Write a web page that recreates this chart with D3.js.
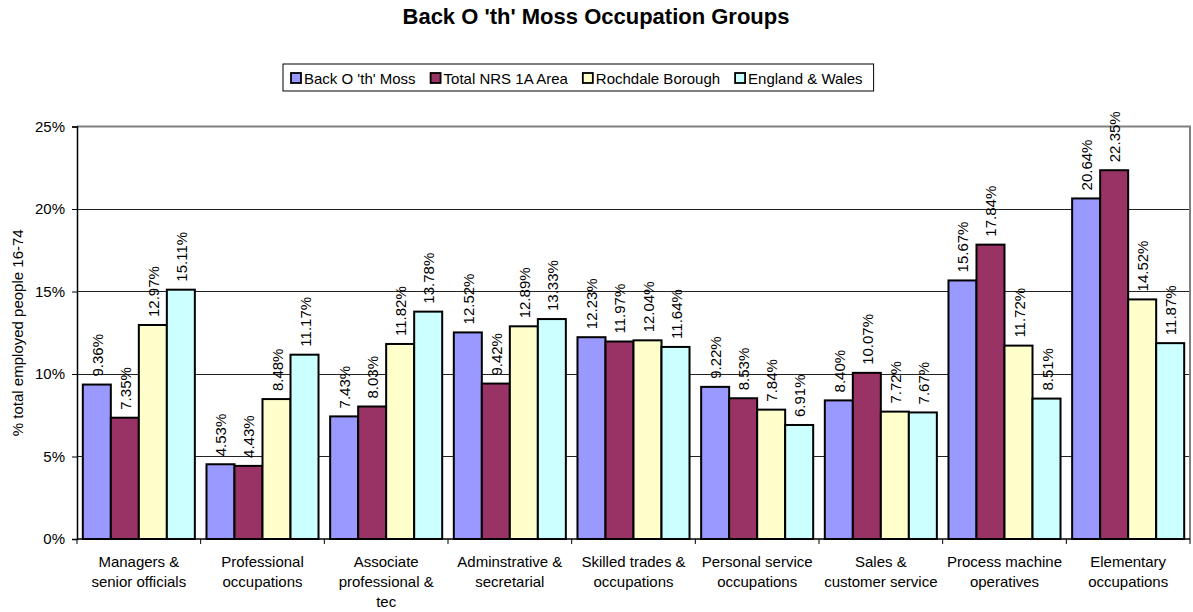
<!DOCTYPE html>
<html>
<head>
<meta charset="utf-8">
<script src="https://cdn.jsdelivr.net/npm/d3@7"></script>
<style>
  body { margin: 0; background: #fff; }
  svg { display: block; font-family: Arial, "Liberation Sans", sans-serif; }
</style>
</head>
<body>
<div id="chart"></div>
<script>
  const categories = [
    ['Managers &', 'senior officials'],
    ['Professional', 'occupations'],
    ['Associate', 'professional &', 'tec'],
    ['Adminstrative &', 'secretarial'],
    ['Skilled trades &', 'occupations'],
    ['Personal service', 'occupations'],
    ['Sales &', 'customer service'],
    ['Process machine', 'operatives'],
    ['Elementary', 'occupations']
  ];
  const seriesNames = ['Back O \'th\' Moss', 'Total NRS 1A Area', 'Rochdale Borough', 'England & Wales'];
  const seriesColors = ['#9999FF', '#993366', '#FFFFCC', '#CCFFFF'];
  const backOthMoss = [9.36, 4.53, 7.43, 12.52, 12.23, 9.22, 8.40, 15.67, 20.64];
  const totalNrs = [7.35, 4.43, 8.03, 9.42, 11.97, 8.53, 10.07, 17.84, 22.35];
  const rochdale = [12.97, 8.48, 11.82, 12.89, 12.04, 7.84, 7.72, 11.72, 14.52];
  const englandWales = [15.11, 11.17, 13.78, 13.33, 11.64, 6.91, 7.67, 8.51, 11.87];
  const yTicks = [0, 5, 10, 15, 20, 25];

  const seriesValues = [backOthMoss, totalNrs, rochdale, englandWales];

  const W = 1193, H = 612;
  const plot = { left: 77, right: 1190, top: 126.5, bottom: 539 };
  const FS = 15;

  const svg = d3.select('#chart').append('svg')
    .attr('width', W).attr('height', H);

  // Title
  svg.append('text')
    .attr('x', 596).attr('y', 24)
    .attr('text-anchor', 'middle')
    .style('font-size', '22px').style('font-weight', 'bold')
    .text('Back O \'th\' Moss Occupation Groups');

  const x0 = d3.scaleBand()
    .domain(d3.range(categories.length))
    .range([plot.left, plot.right])
    .paddingInner(0.094).paddingOuter(0.047);
  const x1 = d3.scaleBand()
    .domain(d3.range(seriesNames.length))
    .range([0, x0.bandwidth()]);
  const y = d3.scaleLinear().domain([0, 25]).range([plot.bottom, plot.top]);

  // Gridlines
  svg.append('g').selectAll('line')
    .data(yTicks.filter(t => t > 0 && t < 25))
    .enter().append('line')
    .attr('x1', plot.left).attr('x2', plot.right)
    .attr('y1', d => y(d)).attr('y2', d => y(d))
    .attr('stroke', '#222').attr('stroke-width', 1)
    .attr('shape-rendering', 'crispEdges');

  // Plot area border (top, right)
  svg.append('path')
    .attr('d', `M${plot.left},${y(25)}H${plot.right}V${plot.bottom}`)
    .attr('fill', 'none').attr('stroke', '#808080').attr('stroke-width', 2);

  // Bars
  const rows = [];
  categories.forEach((c, i) => {
    seriesValues.forEach((vals, s) => rows.push({ cat: i, s, v: vals[i] }));
  });

  svg.append('g').selectAll('rect')
    .data(rows)
    .enter().append('rect')
    .attr('x', d => x0(d.cat) + x1(d.s))
    .attr('y', d => y(d.v))
    .attr('width', x1.bandwidth())
    .attr('height', d => y(0) - y(d.v))
    .attr('fill', d => seriesColors[d.s])
    .attr('stroke', '#000').attr('stroke-width', 2);

  // Value labels
  svg.append('g').selectAll('text')
    .data(rows)
    .enter().append('text')
    .attr('transform', d => {
      const cx = x0(d.cat) + x1(d.s) + x1.bandwidth() / 2 + 6;
      return `translate(${cx},${y(d.v) - 8}) rotate(-90)`;
    })
    .style('font-size', FS + 'px')
    .text(d => d.v.toFixed(2) + '%');

  // Y axis
  const yAxis = svg.append('g')
    .attr('transform', `translate(${plot.left},0)`)
    .call(d3.axisLeft(y).tickValues(yTicks).tickSize(5).tickPadding(7).tickFormat(d => d + '%'));
  yAxis.select('.domain').attr('stroke', '#000').attr('stroke-width', 1.5);
  yAxis.selectAll('text').style('font-size', FS + 'px').attr('fill', '#000');
  yAxis.selectAll('.tick line').attr('stroke', '#000');

  // X axis
  svg.append('line')
    .attr('x1', plot.left).attr('x2', plot.right)
    .attr('y1', plot.bottom).attr('y2', plot.bottom)
    .attr('stroke', '#000').attr('stroke-width', 1.5);
  const step = x0.step();
  svg.append('g').selectAll('line')
    .data(d3.range(categories.length + 1))
    .enter().append('line')
    .attr('x1', i => plot.left + i * step).attr('x2', i => plot.left + i * step)
    .attr('y1', plot.bottom).attr('y2', plot.bottom + 5)
    .attr('stroke', '#000');

  const xl = svg.append('g').selectAll('text')
    .data(categories)
    .enter().append('text')
    .attr('text-anchor', 'middle')
    .style('font-size', FS + 'px');
  xl.each(function (lines, i) {
    const cx = x0(i) + x0.bandwidth() / 2;
    d3.select(this).selectAll('tspan')
      .data(lines)
      .enter().append('tspan')
      .attr('x', cx)
      .attr('y', (d, k) => 567 + k * 20)
      .text(d => d);
  });

  // Y axis title
  svg.append('text')
    .attr('transform', `translate(23,${(plot.top + plot.bottom) / 2}) rotate(-90)`)
    .attr('text-anchor', 'middle')
    .style('font-size', FS + 'px')
    .text('% total employed people 16-74');

  // Legend
  const legend = svg.append('g');
  const legendBox = legend.append('rect')
    .attr('fill', '#fff').attr('stroke', '#000').attr('stroke-width', 1);
  let lx = 291;
  seriesNames.forEach((name, i) => {
    legend.append('rect')
      .attr('x', lx).attr('y', 73).attr('width', 10).attr('height', 10)
      .attr('fill', seriesColors[i]).attr('stroke', '#000').attr('stroke-width', 1.8);
    const t = legend.append('text')
      .attr('x', lx + 13).attr('y', 84)
      .style('font-size', FS + 'px')
      .text(name);
    lx += 13 + t.node().getComputedTextLength() + 15;
  });
  legendBox.attr('x', 283).attr('y', 64).attr('width', lx - 283 - 4).attr('height', 27);
</script>
</body>
</html>
